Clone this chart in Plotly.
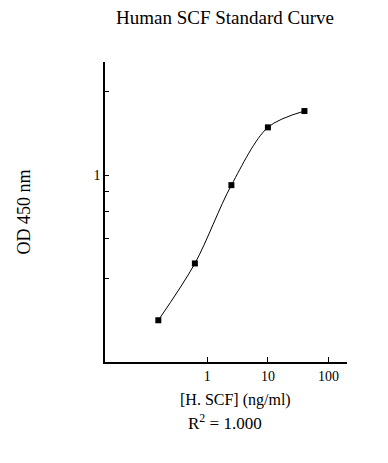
import plotly.graph_objects as go

# Data
conc = [0.156, 0.625, 2.5, 10, 40]          # ng/ml
od = [0.303, 0.484, 0.923, 1.486, 1.70]     # OD 450 nm

x_tickvals = [1, 10, 100]
x_ticktext = ["1", "10", "100"]
y_tickvals = [2.0, 1.0, 0.876, 0.743, 0.595, 0.427]
y_ticktext = [" ", "1", " ", " ", " ", " "]

title_text = "Human SCF Standard Curve"
x_title = "[H. SCF] (ng/ml)"
y_title = "OD 450 nm"
r2_text = "R<sup>2</sup> = 1.000"

FONT = "Liberation Serif, Times New Roman, serif"

# page body has an 8px default margin; the figure is sized to compensate
W, H = 380, 455

fig = go.Figure()
fig.add_trace(go.Scatter(
    x=conc, y=od, mode="lines+markers",
    line=dict(color="black", width=1, shape="spline", smoothing=0.9),
    marker=dict(symbol="square", size=6, color="black"),
    showlegend=False, hoverinfo="skip",
))

fig.update_layout(
    width=W, height=H,
    margin=dict(l=97, r=41, t=54, b=101),
    paper_bgcolor="white", plot_bgcolor="white",
    font=dict(family=FONT, color="black", size=14),
    title=dict(text=title_text, x=217 / W, xref="container", xanchor="center",
               y=1 - 9 / H, yref="container", yanchor="middle",
               font=dict(family=FONT, size=19, color="black")),
    xaxis=dict(type="log", range=[-1.686, 2.304], showgrid=False, zeroline=False,
               showline=True, linecolor="black", linewidth=1.5,
               ticks="inside", ticklen=5, tickwidth=1, tickcolor="black",
               tickvals=x_tickvals, ticktext=x_ticktext,
               tickfont=dict(family=FONT, size=14, color="black")),
    yaxis=dict(type="log", range=[-0.668, 0.406], showgrid=False, zeroline=False,
               showline=True, linecolor="black", linewidth=1.5,
               ticks="inside", ticklen=4, tickwidth=1, tickcolor="black",
               tickvals=y_tickvals, ticktext=y_ticktext,
               tickfont=dict(family=FONT, size=14, color="black")),
    annotations=[
        dict(text=x_title, xref="paper", yref="paper", x=0.541, y=-0.128,
             xanchor="center", yanchor="middle", showarrow=False,
             font=dict(family=FONT, size=16, color="black")),
        dict(text=r2_text, xref="paper", yref="paper", x=0.496, y=-0.201,
             xanchor="center", yanchor="middle", showarrow=False,
             font=dict(family=FONT, size=17, color="black")),
        dict(text=y_title, xref="paper", yref="paper", x=-0.333, y=0.5,
             xanchor="center", yanchor="middle", showarrow=False, textangle=-90,
             font=dict(family=FONT, size=18, color="black")),
    ],
)

fig.write_html("out.html")
